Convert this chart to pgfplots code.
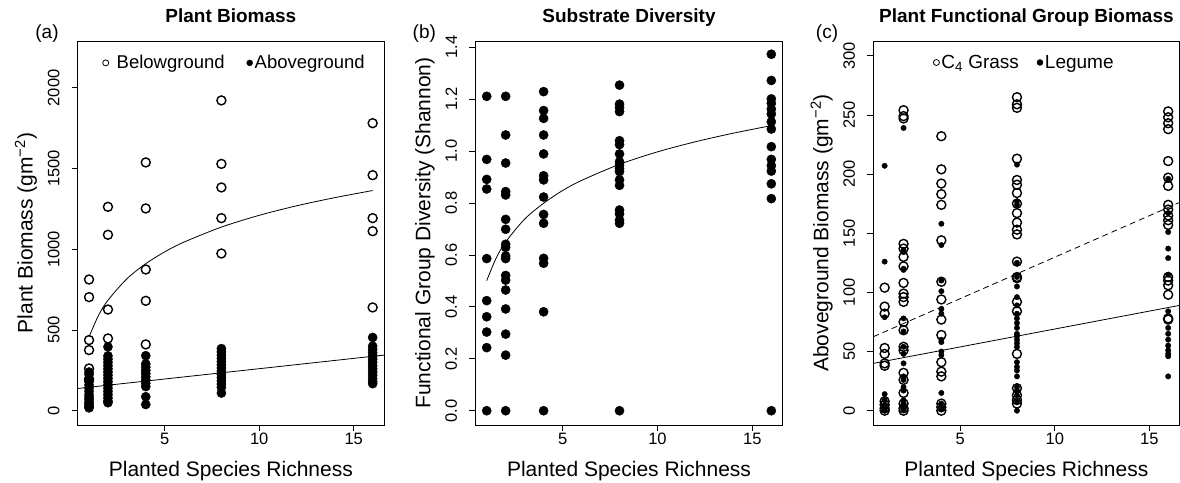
\documentclass[border=0pt]{standalone}
\usepackage{fontspec}
\setmainfont{Liberation Sans}
\usepackage{pgfplots}
\pgfplotsset{compat=1.18}

\pgfplotsset{
  rstyle/.style={
    scale only axis, height=384pt,
    xmin=0.4, xmax=16.6,
    xtick={5,10,15},
    tick align=outside, major tick length=6pt,
    tick pos=left,
    axis line style={line width=0.8pt, black},
    every tick/.style={black, line width=0.8pt},
    /pgf/number format/assume math mode=true,
    /pgf/number format/1000 sep={},
    scaled ticks=false,
    ticklabel style={font=\fontsize{16.5}{18}\selectfont},
    xticklabel style={anchor=north, inner sep=0pt, yshift=-2pt},
    yticklabel style={rotate=90, anchor=south, inner sep=0pt, yshift=12pt},
    xlabel style={font=\fontsize{21}{24}\selectfont, at={(axis description cs:0.5,0)}, anchor=base, yshift=-51.7pt},
    ylabel style={font=\fontsize{21}{24}\selectfont, at={(axis description cs:0,0.5)}, anchor=base, yshift=45pt},
    title style={font=\bfseries\fontsize{19}{22}\selectfont, at={(axis description cs:0.5,1)}, anchor=base, yshift=12.7pt},
    xlabel={Planted Species Richness},
    clip mode=individual,
    legend style={draw=none, fill=none, anchor=west, legend columns=2,
      font=\fontsize{18.5}{20}\selectfont, inner sep=0pt,
      nodes={inner sep=2pt}},
    legend image code/.code={\draw[##1] plot coordinates {(0pt,0pt)};},
  },
  openm/.style={only marks, mark=o, mark size=4.5pt, mark options={line width=1.4pt, black}},
  fillm/.style={only marks, mark=*, mark size=4.6pt, mark options={black, fill=black}},
  smallfill/.style={only marks, mark=*, mark size=2.7pt, mark options={black, fill=black}},
}

\begin{document}
\begin{tikzpicture}
\useasboundingbox (0,0) rectangle (1180pt,482pt);

% ---------------- (a)
\begin{axis}[rstyle, at={(77.7pt,57pt)}, anchor=south west, width=306.3pt,
  ymin=-88, ymax=2290, ytick={0,500,1000,1500,2000},
  ylabel={Plant Biomass (gm\textsuperscript{−2})},
  title={Plant Biomass},
  legend style={at={(axis description cs:0.081,0.943)},
    /tikz/column 1/.append style={column sep=6pt},
    /tikz/column 2/.append style={column sep=20pt},
    /tikz/column 3/.append style={column sep=0pt}}]
\addlegendimage{only marks, mark=o, mark size=3pt, mark options={line width=0.8pt}}
\addlegendentry{Belowground}
\addlegendimage{only marks, mark=*, mark size=3pt}
\addlegendentry{Aboveground}
\addplot[openm, forget plot] coordinates {
(1,813) (1,704) (1,438) (1,376) (1,262) (1,194)
(2,1263) (2,1090) (2,627) (2,448)
(4,1538) (4,1253) (4,875) (4,681) (4,411)
(8,1922) (8,1529) (8,1383) (8,1193) (8,974)
(16,1781) (16,1459) (16,1193) (16,1112) (16,640)
};
\addplot[fillm, forget plot] coordinates {
(1,240) (1,225) (1,200) (1,180) (1,160) (1,140) (1,120) (1,100) (1,85) (1,70) (1,55) (1,45) (1,35) (1,25) (1,18)
(2,396) (2,340) (2,320) (2,300) (2,280) (2,260) (2,240) (2,220) (2,200) (2,180) (2,160) (2,140) (2,120) (2,100) (2,80) (2,60) (2,50)
(4,341) (4,290) (4,270) (4,250) (4,230) (4,210) (4,190) (4,170) (4,150) (4,87) (4,39)
(8,385) (8,365) (8,345) (8,325) (8,305) (8,285) (8,265) (8,245) (8,225) (8,205) (8,185) (8,165) (8,145) (8,110)
(16,454) (16,400) (16,380) (16,360) (16,340) (16,320) (16,300) (16,280) (16,260) (16,240) (16,220) (16,200) (16,180) (16,168)
};
\addplot[black, line width=0.8pt, smooth, forget plot] coordinates {
(1,458) (1.5,590.5) (2,684.5) (3,817) (4,911) (5,984) (6,1043.5) (8,1137.6) (10,1210.5) (12,1270) (14,1320) (16,1364)
};
\addplot[black, line width=0.8pt, forget plot] coordinates {(0.4,138) (16.6,345)};
\node[anchor=base, font=\fontsize{19}{22}\selectfont] at (axis description cs:-0.1002,1.0078) {(a)};
\end{axis}

% ---------------- (b)
\begin{axis}[rstyle, at={(475.3pt,57pt)}, anchor=south west, width=307.4pt,
  ymin=-0.055, ymax=1.424, ytick={0,0.2,...,1.4},
  yticklabel style={/pgf/number format/.cd, fixed, fixed zerofill, precision=1},
  ylabel={Functional Group Diversity (Shannon)},
  title={Substrate Diversity}]
\addplot[fillm] coordinates {
(1,1.211) (1,0.968) (1,0.891) (1,0.854) (1,0.586) (1,0.424) (1,0.362) (1,0.303) (1,0.243) (1,0)
(2,1.211) (2,1.062) (2,0.954) (2,0.844) (2,0.831) (2,0.737) (2,0.699) (2,0.641) (2,0.629) (2,0.596) (2,0.586) (2,0.521) (2,0.503) (2,0.465) (2,0.392) (2,0.295) (2,0.214) (2,0)
(4,1.229) (4,1.156) (4,1.126) (4,1.062) (4,0.989) (4,0.905) (4,0.889) (4,0.823) (4,0.756) (4,0.722) (4,0.587) (4,0.568) (4,0.381) (4,0)
(8,1.254) (8,1.181) (8,1.168) (8,1.152) (8,1.040) (8,1.025) (8,0.989) (8,0.959) (8,0.946) (8,0.933) (8,0.921) (8,0.889) (8,0.868) (8,0.773) (8,0.758) (8,0.734) (8,0.722) (8,0)
(16,1.373) (16,1.272) (16,1.201) (16,1.184) (16,1.162) (16,1.143) (16,1.113) (16,1.085) (16,1.017) (16,0.968) (16,0.944) (16,0.923) (16,0.874) (16,0.817) (16,0)
};
\addplot[black, line width=0.8pt, smooth] coordinates {
(1,0.501) (1.5,0.588) (2,0.650) (3,0.738) (4,0.799) (5,0.848) (6,0.887) (8,0.949) (10,0.997) (12,1.036) (14,1.069) (16,1.098)
};
\node[anchor=base, font=\fontsize{19}{22}\selectfont] at (axis description cs:-0.1658,1.0078) {(b)};
\end{axis}

% ---------------- (c)
\begin{axis}[rstyle, at={(873.3pt,57pt)}, anchor=south west, width=306.2pt,
  ymin=-12.1, ymax=312.5, ytick={0,50,...,300},
  ylabel={Aboveground Biomass (gm\textsuperscript{−2})},
  title={Plant Functional Group Biomass},
  legend style={at={(axis description cs:0.1956,0.944)}, font=\fontsize{19}{20}\selectfont,
    /tikz/column 1/.append style={column sep=0pt},
    /tikz/column 2/.append style={column sep=16pt},
    /tikz/column 3/.append style={column sep=0pt}}]
\addlegendimage{only marks, mark=o, mark size=3pt, mark options={line width=0.8pt}}
\addlegendentry{C\textsubscript{4} Grass}
\addlegendimage{only marks, mark=*, mark size=3pt}
\addlegendentry{Legume}
\addplot[openm, forget plot] coordinates {
(1,104) (1,88) (1,82) (1,53) (1,48) (1,40) (1,38) (1,8) (1,5) (1,2) (1,0)
(2,254) (2,249) (2,247) (2,141) (2,137) (2,130) (2,122) (2,108) (2,99) (2,96) (2,92) (2,75) (2,68) (2,54) (2,51) (2,32) (2,26) (2,15) (2,6) (2,2) (2,0)
(4,232) (4,204) (4,192) (4,183) (4,174) (4,144) (4,109) (4,94) (4,77) (4,64) (4,41) (4,33) (4,29) (4,6) (4,3) (4,0)
(8,265) (8,259) (8,256) (8,213) (8,195) (8,191) (8,184) (8,175) (8,167) (8,159) (8,153) (8,149) (8,126) (8,113) (8,112) (8,92) (8,84) (8,48) (8,19) (8,13) (8,9) (8,6)
(16,253) (16,248) (16,243) (16,238) (16,211) (16,197) (16,190) (16,174) (16,170) (16,165) (16,161) (16,157) (16,113) (16,110) (16,106) (16,98) (16,78) (16,77)
};
\addplot[smallfill, forget plot] coordinates {
(1,207) (1,126) (1,79) (1,14) (1,9) (1,5) (1,3) (1,1) (1,0)
(2,239) (2,136) (2,134) (2,120) (2,119) (2,78) (2,67) (2,54) (2,48) (2,40) (2,29) (2,26) (2,20) (2,17) (2,9) (2,6) (2,3) (2,1)
(4,158) (4,140) (4,110) (4,101) (4,86) (4,82) (4,60) (4,58) (4,50) (4,47) (4,15) (4,6) (4,3) (4,1)
(8,208) (8,177) (8,174) (8,125) (8,113) (8,105) (8,96) (8,89) (8,82) (8,78) (8,74) (8,70) (8,65) (8,63) (8,60) (8,57) (8,54) (8,41) (8,37) (8,34) (8,29) (8,20) (8,17) (8,13) (8,8) (8,0)
(16,196) (16,167) (16,151) (16,137) (16,129) (16,115) (16,84) (16,70) (16,65) (16,60) (16,55) (16,51) (16,48) (16,46) (16,29)
};
\addplot[black, line width=0.8pt, dashed, dash pattern=on 6pt off 4pt, forget plot] coordinates {(0.4,62.5) (16.6,176)};
\addplot[black, line width=0.8pt, forget plot] coordinates {(0.4,40) (16.6,89)};
\node[anchor=base, font=\fontsize{19}{22}\selectfont] at (axis description cs:-0.151,1.0078) {(c)};
\end{axis}
\end{tikzpicture}
\end{document}
